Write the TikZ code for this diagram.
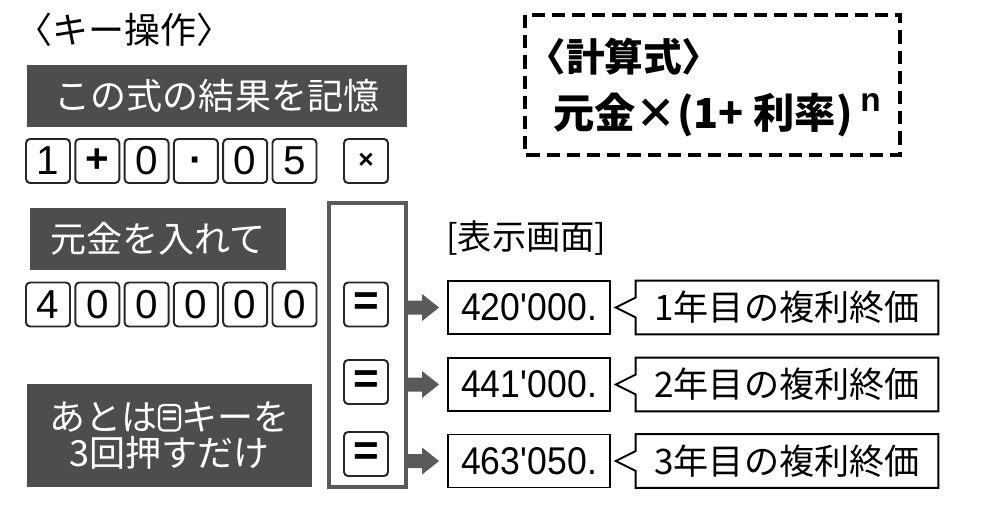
\documentclass[tikz,border=0pt]{standalone}
\usepackage{fontspec}
\setmainfont{Noto Sans CJK JP}
\newfontfamily\keyfont{Liberation Sans}
\newfontfamily\lcdfont{Liberation Sans}[FakeStretch=0.92]
\usetikzlibrary{arrows.meta,positioning,calc}
\definecolor{panelgray}{HTML}{4D4D4D}
\definecolor{framegray}{HTML}{5A5A5A}

\begin{document}
\begin{tikzpicture}[x=0.02cm, y=-0.02cm,
    panel/.style={fill=panelgray, text=white, inner sep=0pt, font=\fontsize{20.5}{21}\selectfont},
    calckey/.style={draw=black!85, line width=1.1pt, rounded corners=2.3pt, minimum width=0.88cm, minimum height=0.88cm, inner sep=0pt, font=\keyfont\fontsize{23}{23}\selectfont},
    eqkey/.style={calckey, font=\keyfont\bfseries\fontsize{25}{25}\selectfont},
    lcd/.style={draw, line width=1.1pt, minimum width=3.24cm, minimum height=1.06cm, inner sep=0pt, font=\lcdfont\fontsize{22}{22}\selectfont},
    note/.style={minimum width=6.04cm, minimum height=1.06cm, inner sep=0pt, font=\fontsize{20}{20}\selectfont},
    heading/.style={anchor=west, inner sep=0pt, font=\fontsize{20.5}{21}\selectfont}]

    \useasboundingbox (0,0) rectangle (1000,504);

    % 見出し
    \node[heading] (title) at (16,30) {〈キー操作〉};

    % 計算式の枠
    \draw[line width=2.2pt, dash pattern=on 7.5pt off 4pt] (525,15) rectangle (900,155);
    \node[heading, font=\bfseries\fontsize{22}{22}\selectfont] (fhead) at (527,57) {〈計算式〉};
    \node[heading, font=\bfseries\fontsize{23.5}{23.5}\selectfont] (fbody) at (553,115) {元金×(1+ 利率)};
    \node[anchor=south west, inner sep=0pt, font=\keyfont\bfseries\fontsize{19}{19}\selectfont] (fexp) at (860,112) {n};

    % 1段目：1+0.05 を記憶
    \node[panel, minimum width=7.6cm, minimum height=1.24cm] (memo) at (217,96) {この式の結果を記憶};
    \foreach \t [count=\i] in {1,\textbf{+},0,\smash{\raisebox{-0.32em}{\textbf{·}}},0,5}
        \node[calckey] (a\i) at ({48+49.3*(\i-1)},161) {\t};
    \node[calckey, font=\keyfont\bfseries\fontsize{15}{15}\selectfont] (times) at (366,161) {×};

    % 2段目：元金 400000
    \node[panel, minimum width=5.12cm, minimum height=1.24cm] (prin) at (158,239) {元金を入れて};
    \foreach \t [count=\i] in {4,0,0,0,0,0}
        \node[calckey] (b\i) at ({48+49.3*(\i-1)},304.5) {\t};

    % あとは＝キーを3回
    \node[panel, minimum width=5.7cm, minimum height=2.06cm, align=center] (hint) at (169.5,435.5)
        {あとは\tikz[baseline=-7pt]\node[draw=white, line width=1.3pt, rounded corners=2.5pt, inner sep=0pt, minimum width=12pt, minimum height=14.5pt, font=\keyfont\bfseries\fontsize{15}{15}\selectfont]{=};キーを\\3回押すだけ};

    % ＝キーの列
    \node[draw=framegray, line width=2pt, minimum width=1.54cm, minimum height=5.68cm] (eqcol) at (367.5,345) {};
    \node[eqkey] (e1) at (366,304.5) {=};
    \node[eqkey] (e2) at (366,382) {=};
    \node[eqkey] (e3) at (366,454) {=};

    % 表示画面
    \node[anchor=west, inner sep=0pt, font=\fontsize{19.5}{19.5}\selectfont] (screen) at (446,238) {[表示画面]};
    \foreach \y/\v/\k in {307.5/420\textquotesingle000./1, 384.5/441\textquotesingle000./2, 461/463\textquotesingle050./3} {
        \node[lcd] (d\k) at (529,\y) {\v};
        \node[note] (c\k) at (787,\y) {\k 年目の複利終価};
        \draw[line width=1.1pt] (c\k.north west) -- ($(c\k.west)+(0,-10)$) -- ($(c\k.west)+(-20,0)$)
            -- ($(c\k.west)+(0,10)$) -- (c\k.south west) -- (c\k.south east) -- (c\k.north east) -- cycle;
        % 太い矢印
        \coordinate (s\k) at (eqcol.east |- d\k.west);
        \coordinate (t\k) at ($(d\k.west)+(-8,0)$);
        \fill[framegray] ($(s\k)+(-3,-7)$) -- ($(t\k)+(-17,-7)$) -- ($(t\k)+(-17,-13.5)$) -- (t\k)
            -- ($(t\k)+(-17,13.5)$) -- ($(t\k)+(-17,7)$) -- ($(s\k)+(-3,7)$) -- cycle;
    }
\end{tikzpicture}
\end{document}
